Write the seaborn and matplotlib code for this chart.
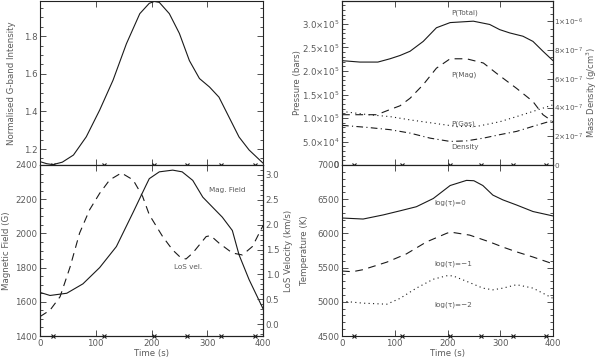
import numpy as np
import pandas as pd
import matplotlib
matplotlib.use("Agg")
import matplotlib.pyplot as plt
import seaborn as sns
from matplotlib.ticker import MultipleLocator, FixedLocator, FixedFormatter, FormatStrFormatter

# ============================================================================
# DATA
# ============================================================================

# G-band intensity (top left)
gband_t = [0, 12, 23, 40, 60, 83, 107, 131, 155, 179, 196, 205, 214, 232, 250,
           268, 286, 304, 321, 339, 357, 375, 400]
gband_v = [1.133, 1.122, 1.117, 1.13, 1.168, 1.265, 1.407, 1.566, 1.76, 1.92, 1.975,
           1.985, 1.98, 1.92, 1.815, 1.67, 1.575, 1.53, 1.476, 1.37, 1.264, 1.195, 1.125]

# magnetic field (bottom left, left axis)
bfield_t = [0, 18, 48, 77, 107, 137, 167, 190, 196, 214, 238, 255, 274, 292, 309,
            327, 345, 357, 375, 400]
bfield_v = [1655, 1637, 1650, 1705, 1800, 1923, 2123, 2280, 2320, 2360, 2370, 2360,
            2310, 2212, 2155, 2095, 2017, 1875, 1730, 1560]

# LoS velocity (bottom left, right axis)
vlos_t = [0, 18, 36, 54, 71, 89, 107, 125, 146, 167, 184, 196, 220, 238, 253, 262,
          274, 298, 306, 321, 345, 363, 381, 400]
vlos_v = [0.15, 0.28, 0.55, 1.15, 1.83, 2.3, 2.63, 2.9, 3.04, 2.9, 2.57, 2.2, 1.76,
          1.49, 1.33, 1.31, 1.43, 1.76, 1.78, 1.63, 1.43, 1.39, 1.56, 1.98]

# pressures (top right, left axis)
ptot_t = [0, 34, 68, 91, 110, 129, 154, 179, 205, 249, 280, 299, 318, 343, 362, 381, 400]
ptot_v = [2.22e5, 2.19e5, 2.19e5, 2.26e5, 2.33e5, 2.42e5, 2.63e5, 2.92e5, 3.03e5,
          3.06e5, 2.99e5, 2.88e5, 2.81e5, 2.74e5, 2.63e5, 2.42e5, 2.22e5]
pmag_t = [0, 66, 91, 110, 129, 154, 179, 205, 236, 268, 293, 331, 362, 381, 400]
pmag_v = [1.07e5, 1.07e5, 1.18e5, 1.26e5, 1.42e5, 1.71e5, 2.06e5, 2.26e5, 2.26e5,
          2.17e5, 1.95e5, 1.63e5, 1.35e5, 1.07e5, 0.92e5]
pgas_t = [0, 50, 91, 129, 173, 217, 255, 299, 331, 362, 400]
pgas_v = [1.14e5, 1.07e5, 1.03e5, 0.96e5, 0.89e5, 0.82e5, 0.82e5, 0.92e5, 1.03e5,
          1.14e5, 1.28e5]

# mass density (top right, right axis)
dens_t = [0, 47, 91, 129, 167, 205, 236, 268, 299, 331, 362, 394, 400]
dens_v = [2.76e-7, 2.62e-7, 2.46e-7, 2.22e-7, 1.87e-7, 1.64e-7, 1.68e-7, 1.87e-7,
          2.11e-7, 2.34e-7, 2.69e-7, 3.04e-7, 3.1e-7]

# temperatures (bottom right)
temp0_t = [0, 40, 78, 110, 141, 173, 205, 236, 250, 267, 286, 305, 331, 362, 400]
temp0_v = [6225, 6210, 6270, 6330, 6390, 6510, 6700, 6775, 6770, 6700, 6560, 6490,
           6415, 6320, 6255]
temp1_t = [0, 20, 40, 85, 122, 160, 198, 205, 242, 280, 305, 331, 362, 400]
temp1_v = [5450, 5440, 5470, 5580, 5700, 5875, 6000, 6020, 5975, 5875, 5800, 5730,
           5655, 5555]
temp2_t = [0, 40, 85, 110, 141, 173, 198, 210, 236, 267, 286, 305, 331, 362, 400]
temp2_v = [5010, 4980, 4965, 5050, 5200, 5330, 5380, 5380, 5300, 5200, 5175, 5200,
           5250, 5200, 5050]

# times marked with crosses on every x axis
mark_t = [23, 114, 205, 264, 325, 386]

# tick labels
time_ticks = [0, 100, 200, 300, 400]
pres_ticks = [0, 5e4, 1e5, 1.5e5, 2e5, 2.5e5, 3e5]
pres_labels = ['0', r'5.0$\times$10$^4$', r'1.0$\times$10$^5$', r'1.5$\times$10$^5$',
               r'2.0$\times$10$^5$', r'2.5$\times$10$^5$', r'3.0$\times$10$^5$']
dens_ticks = [0, 2e-7, 4e-7, 6e-7, 8e-7, 1e-6]
dens_labels = ['0', r'2$\times$10$^{-7}$', r'4$\times$10$^{-7}$', r'6$\times$10$^{-7}$',
               r'8$\times$10$^{-7}$', r'1$\times$10$^{-6}$']

# ============================================================================
# STYLE
# ============================================================================

sns.set_style("ticks")
plt.rcParams['font.family'] = ['DejaVu Sans']
plt.rcParams['mathtext.fontset'] = 'dejavusans'

LINE = '#1a1a1a'
TXT = '#5a5a5a'
FS = 6.2
FS_IN = 5.2
LW = 0.8


def style_axis(ax, mirror=True):
    for sp in ax.spines.values():
        sp.set_color('#222222')
        sp.set_linewidth(0.8)
    ax.tick_params(which='both', direction='in', colors='#333333',
                   labelcolor=TXT, labelsize=FS, width=0.6,
                   top=True, right=mirror, pad=2)
    ax.tick_params(which='major', length=4)
    ax.tick_params(which='minor', length=2)


def mark_times(ax):
    ax.plot(mark_t, [0] * len(mark_t), transform=ax.get_xaxis_transform(),
            ls='none', marker='x', ms=3.5, mew=0.8, color=LINE, clip_on=False)


def line(ax, t, v, **kw):
    df = pd.DataFrame({'t': t, 'v': v})
    sns.lineplot(data=df, x='t', y='v', ax=ax, color=LINE, lw=LW, **kw)


fig = plt.figure(figsize=(6, 3.57), dpi=100)
W, H = 600, 357


def add_ax(x0, x1, y0, y1):
    return fig.add_axes([x0 / W, 1 - y1 / H, (x1 - x0) / W, (y1 - y0) / H])


ax_tl = add_ax(40, 263, 0.5, 165)
ax_bl = add_ax(40, 263, 165, 336)
ax_tr = add_ax(342, 553, 0.5, 165)
ax_br = add_ax(342, 553, 165, 336)

# ---------------- top left: G-band ----------------
line(ax_tl, gband_t, gband_v)
ax_tl.set_ylim(1.115, 1.99)
ax_tl.yaxis.set_major_locator(FixedLocator([1.2, 1.4, 1.6, 1.8]))
ax_tl.yaxis.set_minor_locator(MultipleLocator(0.05))
ax_tl.set_ylabel('Normalised G-band Intensity', fontsize=FS, color=TXT)
ax_tl.yaxis.set_label_coords(-0.108, 0.5)

# ---------------- bottom left: B and LoS velocity ----------------
line(ax_bl, bfield_t, bfield_v)
ax_bl.set_ylim(1400, 2400)
ax_bl.yaxis.set_major_locator(MultipleLocator(200))
ax_bl.yaxis.set_minor_locator(MultipleLocator(50))
ax_bl.set_ylabel('Magnetic Field (G)', fontsize=FS, color=TXT)
ax_bl.yaxis.set_label_coords(-0.128, 0.5)
ax_bl.text(304, 2254, 'Mag. Field', fontsize=FS_IN, color=TXT, va='center')
ax_bl.text(241, 1804, 'LoS vel.', fontsize=FS_IN, color=TXT, va='center')

ax_v = ax_bl.twinx()
line(ax_v, vlos_t, vlos_v, dashes=(7, 5))
ax_v.set_ylim(-0.24, 3.2)
ax_v.yaxis.set_major_locator(MultipleLocator(0.5))
ax_v.yaxis.set_major_formatter(FormatStrFormatter('%.1f'))
ax_v.yaxis.set_minor_locator(MultipleLocator(0.1))
ax_v.set_ylabel('LoS Velocity (km/s)', fontsize=FS, color=TXT)
ax_v.yaxis.set_label_coords(1.094, 0.5)

# ---------------- top right: pressures and density ----------------
line(ax_tr, ptot_t, ptot_v)
line(ax_tr, pmag_t, pmag_v, dashes=(7, 5))
line(ax_tr, pgas_t, pgas_v, dashes=(1, 3))
ax_tr.set_ylim(0, 3.5e5)
ax_tr.yaxis.set_major_locator(FixedLocator(pres_ticks))
ax_tr.yaxis.set_major_formatter(FixedFormatter(pres_labels))
ax_tr.yaxis.set_minor_locator(MultipleLocator(1e4))
ax_tr.set_ylabel('Pressure (bars)', fontsize=FS, color=TXT)
ax_tr.yaxis.set_label_coords(-0.19, 0.5)
for txt, yy in [('P(Total)', 3.23e5), ('P(Mag)', 1.93e5), ('P(Gas)', 0.88e5),
                ('Density', 0.39e5)]:
    ax_tr.text(208, yy, txt, fontsize=FS_IN, color=TXT, va='center')

ax_d = ax_tr.twinx()
line(ax_d, dens_t, dens_v, dashes=(6, 3, 1, 3))
ax_d.set_ylim(0, 1.145e-6)
ax_d.yaxis.set_major_locator(FixedLocator(dens_ticks))
ax_d.yaxis.set_major_formatter(FixedFormatter(dens_labels))
ax_d.yaxis.set_minor_locator(MultipleLocator(5e-8))
ax_d.set_ylabel('Mass Density (g/cm$^3$)', fontsize=6.0, color=TXT)
ax_d.yaxis.set_label_coords(1.150, 0.44)

# ---------------- bottom right: temperatures ----------------
line(ax_br, temp0_t, temp0_v)
line(ax_br, temp1_t, temp1_v, dashes=(7, 5))
line(ax_br, temp2_t, temp2_v, dashes=(1, 3))
ax_br.set_ylim(4500, 7000)
ax_br.yaxis.set_major_locator(MultipleLocator(500))
ax_br.yaxis.set_minor_locator(MultipleLocator(100))
ax_br.set_ylabel('Temperature (K)', fontsize=FS, color=TXT)
ax_br.yaxis.set_label_coords(-0.158, 0.5)
for txt, yy in [('log(τ)=0', 6450), ('log(τ)=−1', 5560), ('log(τ)=−2', 4960)]:
    ax_br.text(175, yy, txt, fontsize=FS_IN, color=TXT, va='center')

# ---------------- shared x handling ----------------
for ax in (ax_tl, ax_bl, ax_tr, ax_br):
    ax.set_xlim(0, 400)
    ax.xaxis.set_major_locator(FixedLocator(time_ticks))
    style_axis(ax, mirror=ax in (ax_tl, ax_br))
    mark_times(ax)
for ax in (ax_tl, ax_tr):
    ax.set_xlabel('')
    ax.tick_params(labelbottom=False)
for ax in (ax_bl, ax_br):
    ax.set_xlabel('Time (s)', fontsize=FS, color=TXT, labelpad=1)
for ax in (ax_v, ax_d):
    style_axis(ax, mirror=True)
    ax.tick_params(which='both', left=False, top=False, bottom=False)
    ax.set_xlim(0, 400)
ax_d.tick_params(labelsize=5.2, pad=1)

fig.savefig('out.png', dpi=100)
